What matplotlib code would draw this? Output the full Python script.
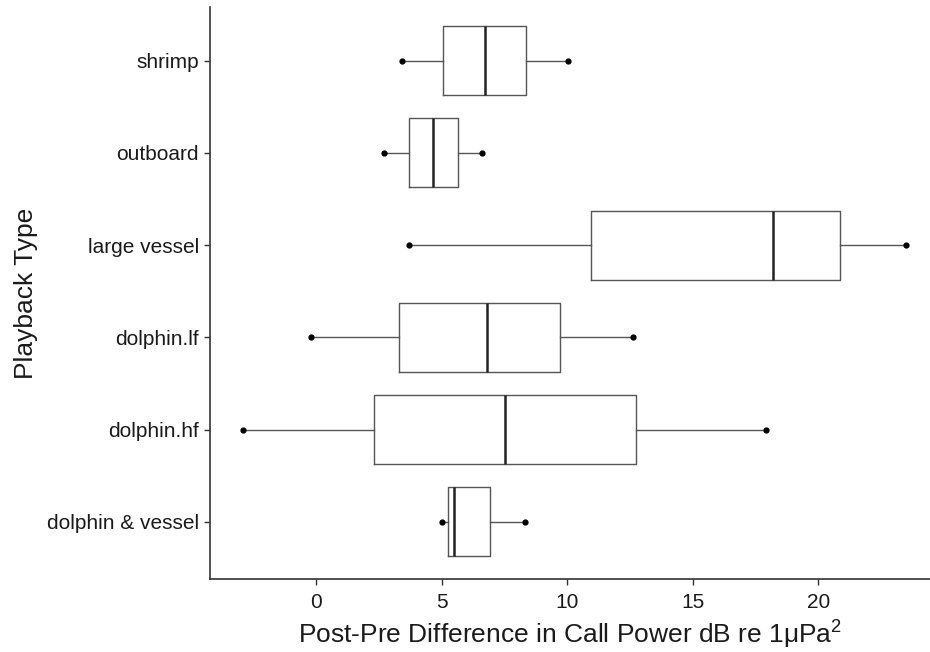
import matplotlib
matplotlib.use("Agg")
import matplotlib.pyplot as plt

plt.rcParams['font.family'] = ['Liberation Sans', 'DejaVu Sans']
plt.rcParams['mathtext.fontset'] = 'custom'
plt.rcParams['mathtext.rm'] = 'Liberation Sans'
plt.rcParams['mathtext.it'] = 'Liberation Sans:italic'

# bottom -> top
categories = ["dolphin & vessel", "dolphin.hf", "dolphin.lf", "large vessel", "outboard", "shrimp"]
whisker_low = [5.01, -2.89, -0.20, 3.70, 2.72, 3.41]
q1 = [5.27, 2.31, 3.31, 10.95, 3.69, 5.07]
medians = [5.51, 7.51, 6.81, 18.20, 4.67, 6.73]
q3 = [6.92, 12.73, 9.71, 20.87, 5.64, 8.38]
whisker_high = [8.31, 17.91, 12.62, 23.50, 6.63, 10.03]
xticks = [0, 5, 10, 15, 20]

stats = []
for c, lo, a, m, b, hi in zip(categories, whisker_low, q1, medians, q3, whisker_high):
    stats.append(dict(label=c, whislo=lo, q1=a, med=m, q3=b, whishi=hi, fliers=[]))

fig = plt.figure(figsize=(9.30, 6.52), dpi=100)
ax = fig.add_axes([0.2258, 0.112, 0.7742, 0.877])

pos = list(range(len(categories)))
ax.bxp(stats, positions=pos, vert=False, widths=0.75, showcaps=False,
       boxprops=dict(color='#555555', linewidth=1.0),
       whiskerprops=dict(color='#555555', linewidth=1.0),
       medianprops=dict(color='#222222', linewidth=1.8),
       manage_ticks=False)
ax.scatter(whisker_low, pos, s=12, color='black', zorder=3)
ax.scatter(whisker_high, pos, s=12, color='black', zorder=3)

ax.set_xlim(-4.22, 24.45)
ax.set_ylim(-0.62, 5.58)
ax.set_yticks(pos)
ax.set_yticklabels(categories)
ax.set_xticks(xticks)
ax.set_xticklabels([str(t) for t in xticks])

for s in ['top', 'right']:
    ax.spines[s].set_visible(False)
for s in ['left', 'bottom']:
    ax.spines[s].set_color('#333333')
    ax.spines[s].set_linewidth(1.2)
ax.tick_params(axis='both', colors='#333333', length=4, width=1.0, labelsize=15, labelcolor='#1a1a1a', pad=4)
ax.tick_params(axis='x', pad=6)

ax.set_ylabel("Playback Type", fontsize=19, color='#1a1a1a', labelpad=6)
ax.set_xlabel("Post-Pre Difference in Call Power dB re 1μPa$^{2}$", fontsize=19, color='#1a1a1a', labelpad=5)

fig.savefig("out.png", dpi=100)
